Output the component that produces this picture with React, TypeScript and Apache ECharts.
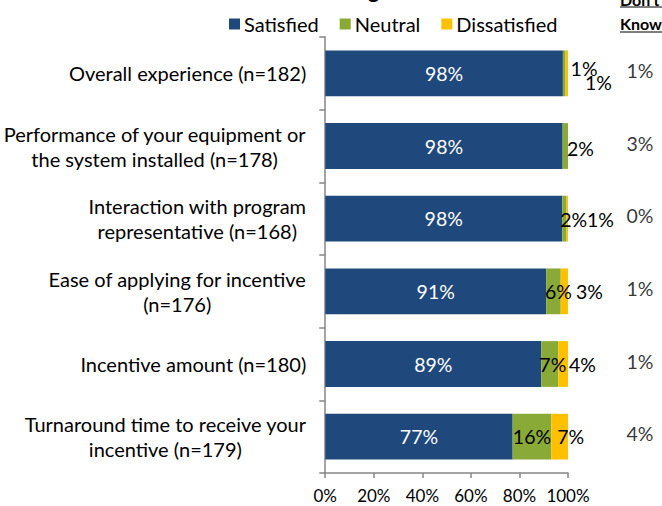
import React, { useEffect, useRef } from 'react';
import * as echarts from 'echarts';

const categories = [
  'Overall experience (n=182)',
  'Performance of your equipment or\nthe system installed (n=178)',
  'Interaction with program\nrepresentative (n=168)',
  'Ease of applying for incentive\n(n=176)',
  'Incentive amount (n=180)',
  'Turnaround time to receive your\nincentive (n=179)',
];
const seriesNames = ['Satisfied', 'Neutral', 'Dissatisfied'];
const satisfied = [97.9, 97.8, 97.6, 91.0, 89.0, 77.2];
const neutral = [1.1, 2.2, 1.8, 6.0, 7.0, 15.9];
const dissatisfied = [1.0, 0, 0.6, 3.0, 4.0, 6.9];
const dontKnowHeader = ["Don't", 'Know'];
const dontKnow = [1, 3, 0, 1, 1, 4];
const titleText = 'Satisfaction Ratings';

const colors = ['#1F497D', '#8AAA38', '#FFC000'];
const FONT = 'Lato';

// label placement (style only)
const neutralLabelStyle: any[] = [
  { position: 'right', distance: 5, offset: [0, -5] },
  { position: 'right', distance: -1, offset: [0, 2] },
  { position: 'insideLeft', distance: -2, offset: [0, 1] },
  { position: 'inside', offset: [5, 0] },
  { position: 'inside', offset: [3, 0] },
  { position: 'inside', offset: [0, 0] },
];
const dissatLabelStyle: any[] = [
  { position: 'right', distance: 17, offset: [0, 9] },
  { position: 'right', distance: 0 },
  { position: 'right', distance: 19, offset: [0, 1] },
  { position: 'right', distance: 8 },
  { position: 'right', distance: 1 },
  { position: 'inside', offset: [11, 0] },
];

const pct = (v: number) => (v > 0 ? Math.round(v) + '%' : '');

export default function App() {
  const ref = useRef<HTMLDivElement>(null);
  useEffect(() => {
    if (!ref.current) return;
    const chart = echarts.init(ref.current, null, { renderer: 'svg' });
    const baseLabel = { fontFamily: FONT, fontSize: 19.5, color: '#000' };
    const option: any = {
      animation: false,
      textStyle: { fontFamily: FONT },
      legend: {
        data: seriesNames,
        top: 9,
        left: 224,
        icon: 'rect',
        itemWidth: 11,
        itemHeight: 11,
        itemGap: 21,
        textStyle: { fontFamily: FONT, fontSize: 20, color: '#000', padding: [0, 0, 0, -1] },
      },
      grid: [
        { left: 322, right: 94, top: 37, bottom: 33, containLabel: false },
        { left: 618, right: 0, top: 37, bottom: 33, containLabel: false },
      ],
      xAxis: [
        {
          type: 'value',
          gridIndex: 0,
          min: 0,
          max: 100,
          interval: 20,
          axisLine: { show: true, lineStyle: { color: '#868686', width: 1.5 } },
          axisTick: { show: true, length: 5, lineStyle: { color: '#868686', width: 1.5 } },
          splitLine: { show: false },
          axisLabel: { formatter: '{value}%', fontFamily: FONT, fontSize: 17, color: '#000', margin: 14 },
        },
        {
          type: 'category',
          gridIndex: 1,
          data: [dontKnowHeader.join(' ')],
          show: false,
        },
      ],
      yAxis: [
        {
          type: 'category',
          gridIndex: 0,
          data: categories,
          inverse: true,
          axisLine: { show: true, lineStyle: { color: '#868686', width: 1.5 } },
          axisTick: { show: true, length: 6, lineStyle: { color: '#868686', width: 1.5 } },
          axisLabel: {
            margin: 19,
            formatter: (v: string) => v.split('\n').map((l) => `{c|${l}}`).join('\n'),
            rich: {
              c: { align: 'center', fontFamily: FONT, fontSize: 20, color: '#000', lineHeight: 25 },
            },
          },
        },
        {
          type: 'category',
          gridIndex: 1,
          data: categories,
          inverse: true,
          show: false,
        },
      ],
      series: [
        {
          name: seriesNames[0],
          type: 'bar',
          stack: 'total',
          barWidth: '63%',
          itemStyle: { color: colors[0] },
          label: { show: true, position: 'inside', ...baseLabel, color: '#fff', formatter: (p: any) => pct(p.value) },
          data: satisfied,
        },
        {
          name: seriesNames[1],
          type: 'bar',
          stack: 'total',
          itemStyle: { color: colors[1] },
          label: { show: true, ...baseLabel, formatter: (p: any) => pct(p.value) },
          data: neutral.map((v, i) => ({ value: v, label: neutralLabelStyle[i] })),
        },
        {
          name: seriesNames[2],
          type: 'bar',
          stack: 'total',
          itemStyle: { color: colors[2] },
          label: { show: true, ...baseLabel, formatter: (p: any) => pct(p.value) },
          data: dissatisfied.map((v, i) => ({ value: v, label: dissatLabelStyle[i] })),
        },
        {
          name: 'dontKnow',
          type: 'scatter',
          xAxisIndex: 1,
          yAxisIndex: 1,
          symbolSize: 1,
          itemStyle: { color: 'rgba(0,0,0,0)' },
          label: {
            show: true,
            position: 'inside',
            ...baseLabel,
            offset: [0, -3],
            formatter: (p: any) => p.value[2] + '%',
          },
          data: dontKnow.map((v, i) => [0, i, v]),
        },
      ],
      graphic: [
        {
          type: 'text',
          x: 389,
          y: 0,
          style: {
            text: titleText,
            textAlign: 'right',
            align: 'right',
            textVerticalAlign: 'bottom',
            verticalAlign: 'bottom',
            fontFamily: FONT,
            fontSize: 22,
            fontWeight: 'bold',
            fill: '#000',
          },
        },
        {
          type: 'text',
          x: 620,
          y: -1,
          style: {
            text: dontKnowHeader[0],
            textAlign: 'left',
            align: 'left',
            textVerticalAlign: 'middle',
            verticalAlign: 'middle',
            fontFamily: FONT,
            fontSize: 16,
            fontWeight: 'bold',
            fill: '#000',
          },
        },
        {
          type: 'text',
          x: 620,
          y: 23,
          style: {
            text: dontKnowHeader[1],
            textAlign: 'left',
            align: 'left',
            textVerticalAlign: 'middle',
            verticalAlign: 'middle',
            fontFamily: FONT,
            fontSize: 16,
            fontWeight: 'bold',
            fill: '#000',
          },
        },
        { type: 'line', shape: { x1: 620, y1: 7, x2: 662, y2: 7 }, style: { stroke: '#000', lineWidth: 1.2 } },
        { type: 'line', shape: { x1: 620, y1: 32, x2: 662, y2: 32 }, style: { stroke: '#000', lineWidth: 1.2 } },
      ],
    };
    chart.setOption(option);
    return () => chart.dispose();
  }, []);
  return (
    <div
      ref={ref}
      style={{ position: 'absolute', left: 0, top: 0, width: 662, height: 506, background: '#fff' }}
    />
  );
}
